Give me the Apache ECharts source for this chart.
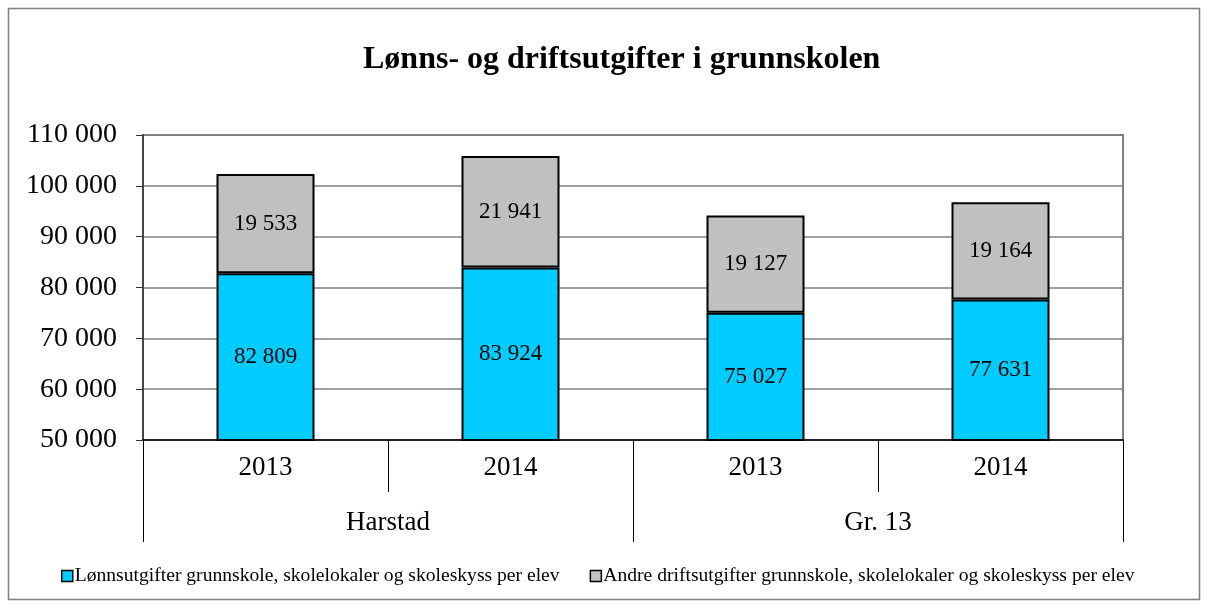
<!DOCTYPE html>
<html>
<head>
<meta charset="utf-8">
<script src="https://cdn.jsdelivr.net/npm/echarts@6/dist/echarts.min.js"></script>
<style>
  html, body { margin: 0; padding: 0; background: #fff; }
  #chart { width: 1208px; height: 608px; }
</style>
</head>
<body>
<div id="chart"></div>
<script>
(function () {
  var years = ['2013', '2014', '2013', '2014'];
  var groups = ['Harstad', 'Gr. 13'];
  var lonn = [82809, 83924, 75027, 77631];
  var andre = [19533, 21941, 19127, 19164];
  var lonnName = 'Lønnsutgifter grunnskole, skolelokaler og skoleskyss per elev';
  var andreName = 'Andre driftsutgifter grunnskole, skolelokaler og skoleskyss per elev';

  var serif = '"Liberation Serif", "DejaVu Serif", serif';

  function fmt(v) {
    return String(v).replace(/\B(?=(\d{3})+(?!\d))/g, ' ');
  }

  var chart = echarts.init(document.getElementById('chart'), null, { renderer: 'canvas' });
  chart.setOption({
    animation: false,
    textStyle: { fontFamily: serif, color: '#000' },
    graphic: [{
      type: 'rect',
      shape: { x: 8.5, y: 8.5, width: 1191, height: 591 },
      style: { fill: 'none', stroke: '#808080', lineWidth: 1.5 },
      silent: true
    }],
    title: {
      text: 'Lønns- og driftsutgifter i grunnskolen',
      left: 358,
      top: 39,
      textStyle: { fontFamily: serif, fontSize: 32, fontWeight: 'bold', color: '#000' }
    },
    legend: {
      top: 561,
      left: 56,
      itemWidth: 11,
      itemHeight: 11,
      itemGap: 30,
      icon: 'rect',
      textStyle: { fontFamily: serif, fontSize: 19.6, color: '#000', padding: [0, 0, 0, -3] },
      itemStyle: { borderColor: '#000', borderWidth: 1.5 },
      data: [lonnName, andreName]
    },
    grid: {
      left: 143, right: 85, top: 135, bottom: 168,
      show: true, borderColor: '#808080', borderWidth: 2
    },
    xAxis: [{
      type: 'category',
      data: years,
      axisLine: { lineStyle: { color: '#000', width: 1.5 } },
      axisTick: { show: true, length: 52, lineStyle: { color: '#000' } },
      axisLabel: { fontFamily: serif, fontSize: 27, color: '#000', margin: 14 }
    }, {
      type: 'category',
      data: groups,
      position: 'bottom',
      axisLine: { show: false },
      axisTick: { show: true, length: 102, lineStyle: { color: '#000' } },
      axisLabel: { fontFamily: serif, fontSize: 27, color: '#000', margin: 69 }
    }],
    yAxis: {
      type: 'value',
      min: 50000,
      max: 110000,
      interval: 10000,
      axisLine: { show: true, lineStyle: { color: '#333', width: 1.5 } },
      axisTick: { show: true, length: 7, lineStyle: { color: '#333' } },
      axisLabel: { fontFamily: serif, fontSize: 28, color: '#000', margin: 26, formatter: fmt },
      splitLine: { lineStyle: { color: '#808080', width: 1.5 } }
    },
    series: [{
      name: lonnName,
      type: 'bar',
      stack: 'total',
      barWidth: 98,
      data: lonn,
      itemStyle: { color: '#00CCFF', borderColor: '#000', borderWidth: 2 },
      label: { show: true, position: 'inside', fontFamily: serif, fontSize: 23, color: '#000', formatter: function (p) { return fmt(p.value); } }
    }, {
      name: andreName,
      type: 'bar',
      stack: 'total',
      barWidth: 98,
      data: andre,
      itemStyle: { color: '#C0C0C0', borderColor: '#000', borderWidth: 2 },
      label: { show: true, position: 'inside', fontFamily: serif, fontSize: 23, color: '#000', formatter: function (p) { return fmt(p.value); } }
    }]
  });
  window.addEventListener('resize', function () { chart.resize(); });
})();
</script>
</body>
</html>
